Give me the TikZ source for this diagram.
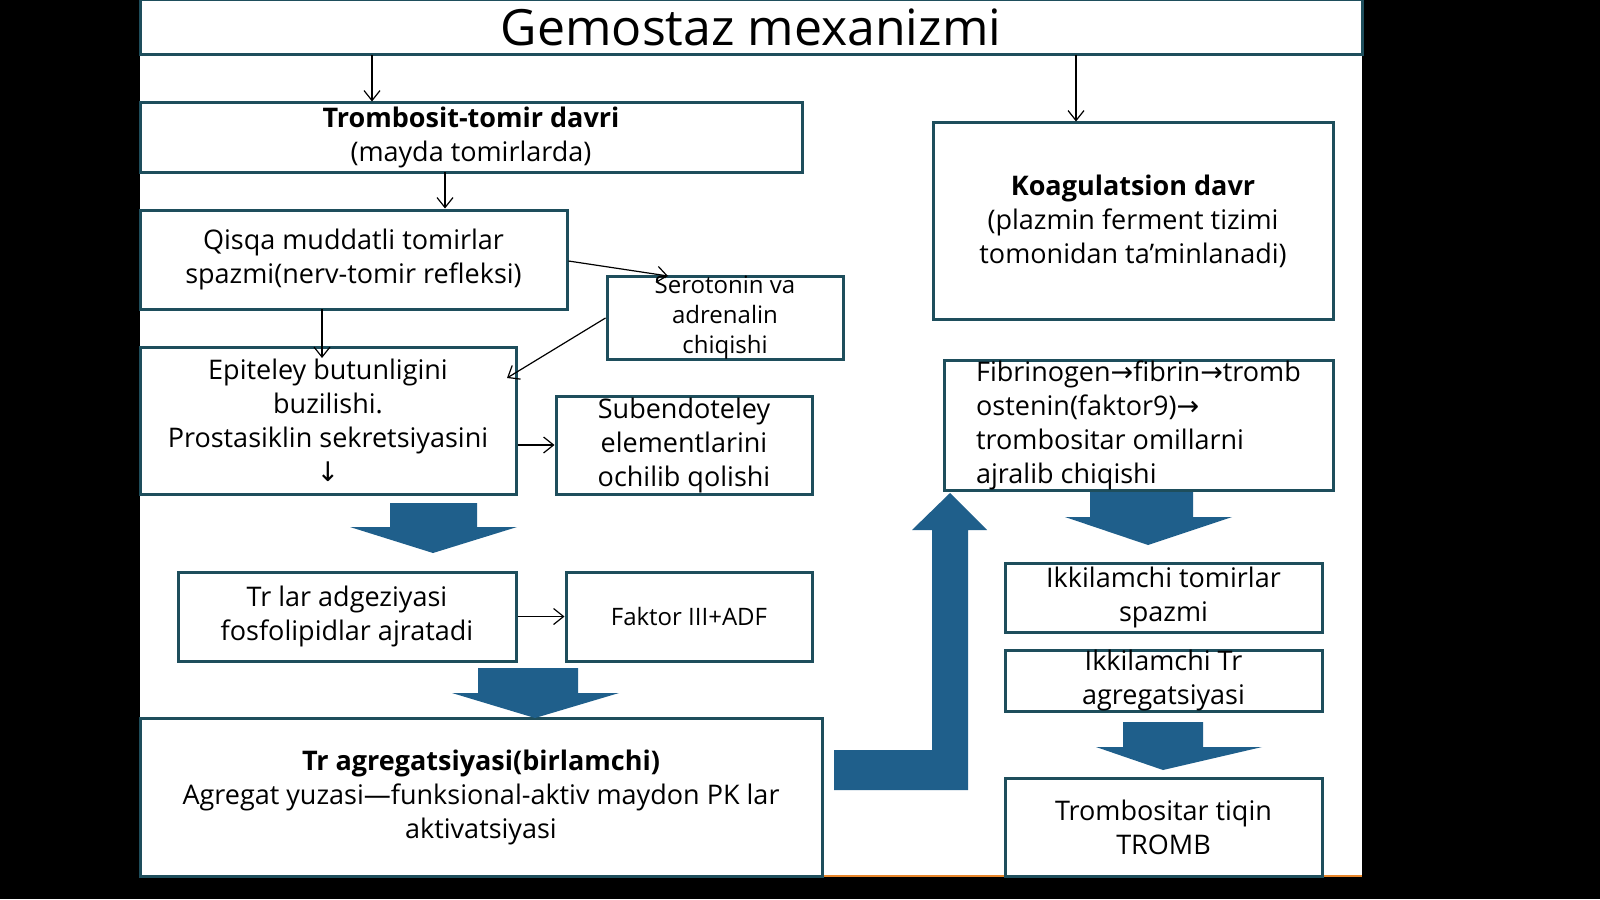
\documentclass[tikz,border=0pt]{standalone}
\usepackage{fontspec}
\setmainfont{Open Sans}
\newfontfamily\arr{DejaVu Sans}
\usetikzlibrary{arrows.meta}
\definecolor{boxline}{HTML}{1E4E5C}
\definecolor{bigarrow}{HTML}{1F5F8B}
\definecolor{stripe}{HTML}{E8862A}
\tikzset{
  box/.style={draw=boxline,line width=1.5pt,fill=white,align=center,inner sep=0pt,
    font=\fontsize{13.5}{17}\selectfont},
  smallbox/.style={box,font=\fontsize{12}{15}\selectfont},
  link/.style={-{Straight Barb[length=5pt,width=8pt]},line width=0.6pt,black},
  bigarr/.style={fill=bigarrow,draw=none}
}
\begin{document}
\begin{tikzpicture}[x=0.5pt,y=-0.5pt]
 \useasboundingbox (0,0) rectangle (1600,899);
 \fill[black] (0,0) rectangle (1600,899);
 \fill[white] (140,0) rectangle (1362,876);
 \draw[stripe,line width=1pt] (140,876) -- (1362,876);
 % title
 \node (title) at (751,27.5) [box,minimum width=611pt,minimum height=27.5pt,
   font=\fontsize{25}{30}\selectfont] {Gemostaz mexanizmi};
 % left column
 \node (b1) at (471,137.5) [box,minimum width=331pt,minimum height=34.5pt]
   {\textbf{Trombosit-tomir davri}\\(mayda tomirlarda)};
 \node (b2) at (353.5,259.5) [box,minimum width=213.5pt,minimum height=49.5pt]
   {Qisqa muddatli tomirlar\\spazmi(nerv-tomir refleksi)};
 \node (b3) at (725,318) [smallbox,minimum width=118pt,minimum height=40pt]
   {Serotonin va\\adrenalin\\chiqishi};
 \node (b4) at (328,420.5) [box,minimum width=188pt,minimum height=73.5pt]
   {Epiteley butunligini\\buzilishi.\\Prostasiklin sekretsiyasini\\{\arr ↓}};
 \node (b5) at (684,445) [box,minimum width=128pt,minimum height=49pt]
   {Subendoteley\\elementlarini\\ochilib qolishi};
 \node (b6) at (347,616.5) [box,minimum width=169pt,minimum height=44.5pt]
   {Tr lar adgeziyasi\\fosfolipidlar ajratadi};
 \node (b7) at (689,616.5) [smallbox,minimum width=123pt,minimum height=44.5pt]
   {Faktor III+ADF};
 \node (b8) at (481,797) [box,minimum width=341pt,minimum height=79pt]
   {\textbf{Tr agregatsiyasi(birlamchi)}\\Agregat yuzasi---funksional-aktiv maydon PK lar\\aktivatsiyasi};
 % right column
 \node (b9) at (1133,221) [box,minimum width=200pt,minimum height=98pt]
   {\textbf{Koagulatsion davr}\\(plazmin ferment tizimi\\tomonidan ta’minlanadi)};
 \node (b10) at (1138.5,425.5) [box,minimum width=194.5pt,minimum height=59.5pt,align=left]
   {Fibrinogen{\arr→}fibrin{\arr→}tromb\\ostenin(faktor9){\arr→}\\trombositar omillarni\\ajralib chiqishi};
 \node (b11) at (1163.5,597.5) [box,minimum width=158.5pt,minimum height=34.5pt]
   {Ikkilamchi tomirlar\\spazmi};
 \node (b12) at (1163.5,680.5) [box,minimum width=158.5pt,minimum height=29.5pt]
   {Ikkilamchi Tr\\agregatsiyasi};
 \node (b13) at (1163.5,827) [box,minimum width=158.5pt,minimum height=49pt]
   {Trombositar tiqin\\TROMB};
 % thin arrows
 \coordinate (t1) at (372,55);
 \coordinate (t2) at (445,172);
 \coordinate (t3) at (322,309);
 \coordinate (t4) at (1076,55);
 \draw[link] (t1) -- (t1 |- b1.north);
 \draw[link] (t2) -- (t2 |- b2.north);
 \draw[link] (t3) -- (322,358);
 \draw[link] (t4) -- (t4 |- b9.north);
 \draw[link] (b2.east) ++(0,1.5) -- (668,276);
 \draw[link] (b3.west) -- (507,378);
 \draw[link] (b4.east |- b5.west) -- (b5.west);
 \draw[link] (b6.east) -- (b7.west);
 % block arrows
 \fill[bigarr] (390,503) -- (477,503) -- (477,527) -- (517,527) -- (433,553)
   -- (350,527) -- (390,527) -- cycle;
 \fill[bigarr] (478,668) -- (578,668) -- (578,693) -- (619,693) -- (535,718)
   -- (452,693) -- (478,693) -- cycle;
 \fill[bigarr] (834,750) -- (932,750) -- (932,530) -- (912,530) -- (950,493)
   -- (987,530) -- (968,530) -- (968,790) -- (834,790) -- cycle;
 \fill[bigarr] (1090,492) -- (1193,492) -- (1193,517) -- (1232,517) -- (1148,545)
   -- (1065,517) -- (1090,517) -- cycle;
 \fill[bigarr] (1123,722) -- (1203,722) -- (1203,747) -- (1262,747) -- (1163,770)
   -- (1096,747) -- (1123,747) -- cycle;
\end{tikzpicture}
\end{document}
